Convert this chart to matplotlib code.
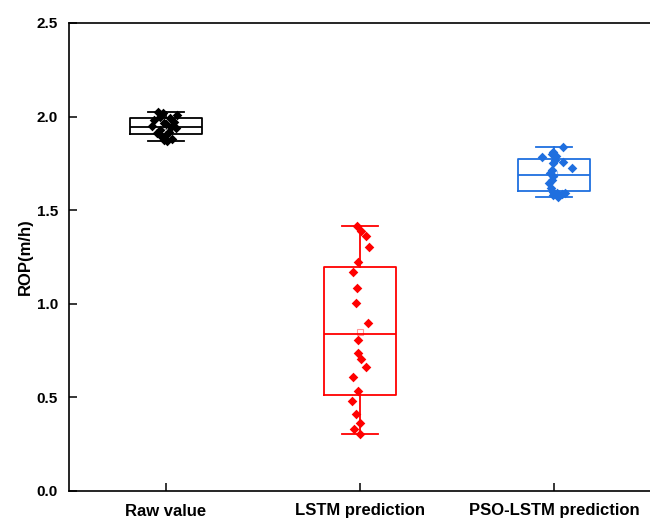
import matplotlib
matplotlib.use("Agg")
import numpy as np
import matplotlib.pyplot as plt

plt.rcParams['font.family'] = ['Liberation Sans', 'DejaVu Sans']
plt.rcParams['font.weight'] = 'bold'

categories = ['Raw value', 'LSTM prediction', 'PSO-LSTM prediction']
colors = ['black', '#ff0000', '#1f6fdf']

# box statistics
whislo = [1.872, 0.304, 1.569]
q1 = [1.905, 0.511, 1.604]
med = [1.946, 0.840, 1.690]
q3 = [1.990, 1.198, 1.772]
whishi = [2.026, 1.417, 1.836]
means = [1.950, 0.848, 1.695]

# scatter points (value, horizontal jitter in category units)
raw_vals = [2.026, 2.021, 2.009, 2.00, 1.99, 1.98, 1.97, 1.965, 1.96, 1.95,
            1.945, 1.94, 1.93, 1.92, 1.91, 1.90, 1.89, 1.88, 1.875, 1.872]
raw_jit = [-0.04, -0.015, 0.055, -0.03, 0.02, -0.06, 0.04, -0.01, 0.0, -0.07,
           0.025, 0.05, -0.03, 0.015, -0.045, 0.0, -0.02, 0.03, -0.01, 0.005]

lstm_vals = [1.417, 1.390, 1.364, 1.305, 1.222, 1.172, 1.083, 1.006, 0.896, 0.807,
             0.739, 0.705, 0.661, 0.611, 0.534, 0.482, 0.411, 0.365, 0.331, 0.303]
lstm_jit = [-0.015, 0.005, 0.03, 0.048, -0.01, -0.038, -0.015, -0.02, 0.04, -0.01,
            -0.01, 0.005, 0.03, -0.038, -0.01, -0.043, -0.022, 0.0, -0.03, 0.002]

pso_vals = [1.839, 1.812, 1.800, 1.790, 1.786, 1.768, 1.759, 1.750, 1.724, 1.715,
            1.697, 1.683, 1.661, 1.644, 1.617, 1.599, 1.593, 1.590, 1.587, 1.581, 1.572]
pso_jit = [0.048, -0.003, -0.012, 0.01, -0.064, 0.005, 0.048, -0.003, 0.091, -0.012,
           -0.02, -0.003, -0.012, -0.024, -0.017, -0.003, 0.057, 0.014, 0.04, -0.003, 0.023]

points = [(raw_vals, raw_jit), (lstm_vals, lstm_jit), (pso_vals, pso_jit)]

fig = plt.figure(figsize=(6.5, 5.18), dpi=100)
ax = fig.add_axes([69 / 650, 27 / 518, 582 / 650, 468 / 518])

for i in range(3):
    st = [dict(whislo=whislo[i], q1=q1[i], med=med[i], q3=q3[i],
               whishi=whishi[i], mean=means[i], fliers=[])]
    c = colors[i]
    ax.bxp(st, positions=[i + 1], widths=0.366, capwidths=0.19, showmeans=True,
           boxprops=dict(color=c, linewidth=1.3),
           medianprops=dict(color=c, linewidth=1.3),
           whiskerprops=dict(color=c, linewidth=1.3),
           capprops=dict(color=c, linewidth=1.3),
           meanprops=dict(marker='s', markersize=4, markerfacecolor='none',
                          markeredgecolor=c, alpha=0.4, markeredgewidth=0.8))
    vals, jit = points[i]
    ax.scatter(np.array(jit) + i + 1, vals, marker='D', s=24, color=c, zorder=3,
               linewidths=0)

ax.set_xlim(0.5, 3.5)
ax.set_ylim(0, 2.5)
ax.set_xticks([1, 2, 3])
ax.set_xticklabels(categories, fontsize=12, fontweight='bold')
ax.set_yticks([0, 0.5, 1.0, 1.5, 2.0, 2.5])
ax.set_yticklabels(['0.0', '0.5', '1.0', '1.5', '2.0', '2.5'], fontsize=11,
                   fontweight='bold')
ax.tick_params(direction='in', length=6, width=1.1, pad=8)
ax.tick_params(axis='x', pad=9)
ax.set_ylabel('ROP(m/h)', fontsize=12, fontweight='bold', labelpad=3)
for sp in ax.spines.values():
    sp.set_linewidth(1.2)

fig.savefig('out.png', dpi=100)
